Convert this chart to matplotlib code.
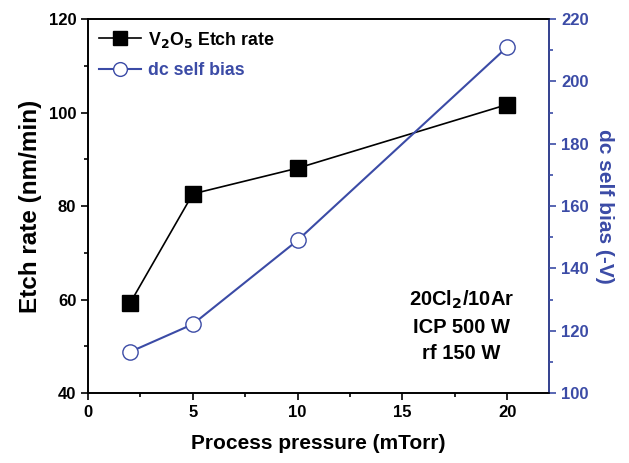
import matplotlib.pyplot as plt
from matplotlib.ticker import MultipleLocator

plt.rcParams['font.family'] = ['Liberation Sans', 'DejaVu Sans']
plt.rcParams['font.weight'] = 'bold'

pressure = [2, 5, 10, 20]
etch_rate = [59.2, 82.6, 88.1, 101.7]
self_bias = [113.2, 122.1, 149.0, 211.0]

blue = '#3B4BA6'

fig = plt.figure(figsize=(6.29, 4.63), dpi=100)
ax = fig.add_axes([0.140, 0.151, 0.733, 0.808])
ax2 = ax.twinx()

l1, = ax.plot(pressure, etch_rate, color='black', marker='s', markersize=11,
              linewidth=1.2, label='V$_2$O$_5$ Etch rate')
l2, = ax2.plot(pressure, self_bias, color=blue, marker='o', markersize=11,
               markerfacecolor='white', markeredgewidth=1.0, linewidth=1.5,
               label='dc self bias')

ax.set_xlim(0, 22)
ax.set_ylim(40, 120)
ax2.set_ylim(100, 220)
ax.xaxis.set_major_locator(MultipleLocator(5))
ax.xaxis.set_minor_locator(MultipleLocator(2.5))
ax.yaxis.set_major_locator(MultipleLocator(20))
ax.yaxis.set_minor_locator(MultipleLocator(10))
ax2.yaxis.set_major_locator(MultipleLocator(20))
ax2.yaxis.set_minor_locator(MultipleLocator(10))

ax.set_xlabel('Process pressure (mTorr)', fontsize=15, fontweight='bold',
              labelpad=10)
ax.set_ylabel('Etch rate (nm/min)', fontsize=17.5, fontweight='bold', labelpad=5)
ax2.set_ylabel('dc self bias (-V)', fontsize=15, fontweight='bold', color=blue,
               rotation=270, labelpad=18)

for a in (ax, ax2):
    a.tick_params(which='major', length=5, width=1.2, labelsize=12)
    a.tick_params(which='minor', length=3, width=1.2)
    for s in a.spines.values():
        s.set_linewidth(1.2)
ax2.spines['right'].set_color(blue)
ax2.tick_params(axis='y', which='both', colors=blue)
ax.tick_params(axis='y', which='both', right=False)

leg = ax.legend([l1, l2], [l1.get_label(), l2.get_label()], loc='upper left',
                frameon=False, fontsize=12.8, handlelength=2.4,
                handletextpad=0.35, borderaxespad=0.2, labelspacing=0.7,
                markerscale=0.9)
leg.get_texts()[1].set_color(blue)

ax.text(0.81, 0.18, '20Cl$_2$/10Ar\nICP 500 W\nrf 150 W', transform=ax.transAxes,
        ha='center', va='center', fontsize=14.5, fontweight='bold', linespacing=1.45)

fig.savefig('out.png', dpi=100)
